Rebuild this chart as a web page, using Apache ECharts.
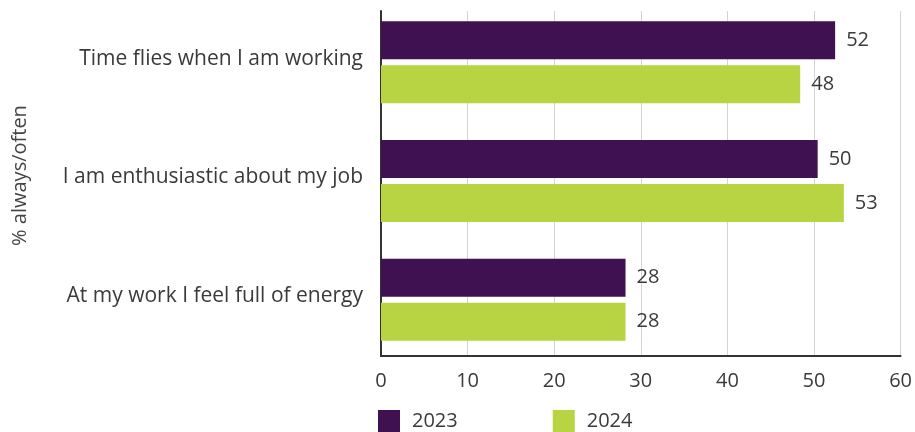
<!DOCTYPE html>
<html>
<head>
<meta charset="utf-8">
<script src="https://cdn.jsdelivr.net/npm/echarts@6/dist/echarts.min.js"></script>
<style>
  html, body { margin: 0; padding: 0; background: #fff; }
  #chart { width: 915px; height: 432px; }
</style>
</head>
<body>
<div id="chart"></div>
<script>
// Survey statements, listed top to bottom
const categories = [
  'Time flies when I am working',
  'I am enthusiastic about my job',
  'At my work I feel full of energy'
];
const seriesNames = ['2023', '2024'];
const values2023 = [52, 50, 28];
const values2024 = [48, 53, 28];
const xTicks = [0, 10, 20, 30, 40, 50, 60];
const axisTitle = '% always/often';

const PURPLE = '#3F1150';
const GREEN = '#B8D443';
const TEXT = '#3a3a3a';
const FONT = '"Open Sans", "Noto Sans", sans-serif';

const chart = echarts.init(document.getElementById('chart'), null, { renderer: 'canvas' });

const labelStyle = {
  show: true,
  position: 'right',
  distance: 11,
  color: TEXT,
  fontSize: 20,
  fontFamily: FONT
};

chart.setOption({
  animation: false,
  textStyle: { fontFamily: FONT },
  legend: {
    data: seriesNames,
    left: 378,
    top: 410,
    padding: 0,
    itemWidth: 22,
    itemHeight: 22,
    itemGap: 95,
    icon: 'rect',
    textStyle: { color: TEXT, fontSize: 20, fontFamily: FONT, padding: [0, 0, 0, 7] }
  },
  grid: [
    // bars
    { left: 381, right: 10, top: 3, bottom: 73 },
    // frame: axis lines, gridlines and tick labels
    { left: 381, right: 10, top: 11, bottom: 76 }
  ],
  xAxis: [
    {
      gridIndex: 0, type: 'value', min: 0, max: 60, interval: 10,
      axisLine: { show: false }, axisTick: { show: false },
      axisLabel: { show: false }, splitLine: { show: false }
    },
    {
      gridIndex: 1, type: 'value',
      min: xTicks[0], max: xTicks[xTicks.length - 1], interval: xTicks[1] - xTicks[0],
      axisLine: { show: true, lineStyle: { color: '#333', width: 2 } },
      axisTick: { show: false },
      axisLabel: { color: TEXT, fontSize: 20, margin: 15, fontFamily: FONT },
      splitLine: { show: true, lineStyle: { color: '#d4d4d4', width: 1 } }
    }
  ],
  yAxis: [
    {
      gridIndex: 0, type: 'category', data: categories, inverse: true,
      axisLine: { show: false }, axisTick: { show: false },
      axisLabel: {
        margin: 18,
        formatter: '{t|{value}}',
        rich: {
          t: { color: TEXT, fontSize: 21, fontFamily: FONT, padding: [0, 0, 7, 0] }
        }
      }
    },
    {
      gridIndex: 1, type: 'category', data: categories, inverse: true,
      axisLine: { show: true, lineStyle: { color: '#333', width: 2 } },
      axisTick: { show: false }, axisLabel: { show: false },
      splitLine: { show: false }
    }
  ],
  graphic: [
    {
      type: 'text',
      x: 20, y: 175.5,
      rotation: Math.PI / 2,
      style: {
        text: axisTitle,
        fill: '#444',
        font: '20px ' + FONT,
        align: 'center',
        verticalAlign: 'middle'
      }
    }
  ],
  series: [
    {
      name: seriesNames[0], type: 'bar', xAxisIndex: 0, yAxisIndex: 0,
      data: values2023, barWidth: 38, barGap: '16%',
      itemStyle: { color: PURPLE },
      label: labelStyle
    },
    {
      name: seriesNames[1], type: 'bar', xAxisIndex: 0, yAxisIndex: 0,
      data: values2024, barWidth: 38, barGap: '16%',
      itemStyle: { color: GREEN },
      label: labelStyle
    }
  ]
});
</script>
</body>
</html>
